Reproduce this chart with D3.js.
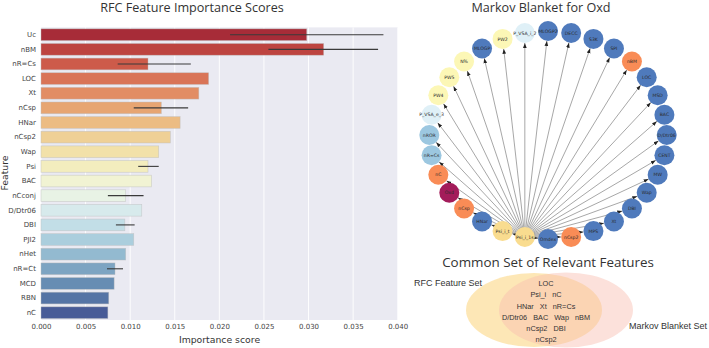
<!DOCTYPE html>
<html><head><meta charset="utf-8">
<script src="https://cdn.jsdelivr.net/npm/d3@7"></script>
<style>body{margin:0;background:#fff}svg{display:block}</style>
</head><body>
<svg id="c" width="709" height="348"></svg>
<script>
// ---------- Data ----------
const features = ["Uc","nBM","nR=Cs","LOC","Xt","nCsp","HNar","nCsp2","Wap","Psi","BAC","nCconj","D/Dtr06","DBI","PJI2","nHet","nR=Ct","MCD","RBN","nC"];
const importance = [0.0298,0.0317,0.0120,0.0188,0.0177,0.0135,0.0156,0.0145,0.0132,0.0120,0.0124,0.0095,0.0113,0.0094,0.0104,0.0095,0.0083,0.0082,0.0076,0.0075];
const errLow  = [0.0212,0.0255,0.0086,null,null,0.0104,null,null,null,0.0109,null,0.0075,null,0.0084,null,null,0.0074,null,null,null];
const errHigh = [0.0384,0.0378,0.0168,null,null,0.0165,null,null,null,0.0132,null,0.0115,null,0.0105,null,null,0.0092,null,null,null];
const xTicks = [0,0.005,0.01,0.015,0.02,0.025,0.03,0.035,0.04];

// Markov blanket nodes in circular-layout order (counter-clockwise from the right)
const mbNodes = ["D/Dtr06","BAC","MSD","LOC","nBM","SPI","S3K","DECC","MLOGP2","P_VSA_i_2","PW2","MLOGP","N%","PW5","PW4","P_VSA_e_3","nROR","nR=Cs","nC","Oxd","nCsp","HNar","Psi_i_t","Psi_i_1s","Omdex","nCsp2","MPS","Xt","DBI","Wap","MW","CENT"];
const mbGroups = ["blue","blue","blue","blue","orange","blue","blue","blue","blue","lightblue","paleyellow","blue","paleyellow","paleyellow","paleyellow","lightblue","midblue","midblue","orange","crimson","orange","blue","yellow","yellow","blue","orange","blue","blue","blue","blue","blue","blue"];
const mbHub = "Psi_i_1s";

const vennRows = [["LOC"],["Psi_i","nC"],["HNar","Xt","nR=Cs"],["D/Dtr06","BAC","Wap","nBM"],["nCsp2","DBI"],["nCsp2"]];
const vennSets = ["RFC Feature Set","Markov Blanket Set"];

// ---------- Setup ----------
const svg = d3.select("#c");

// ---------- Bar chart ----------
const x = d3.scaleLinear().domain([0,0.04]).range([41,397.7]);
const y = d3.scaleBand().domain(features).range([27.4,320]).paddingInner(0.2).paddingOuter(0.1);

svg.append("rect").attr("x",41).attr("y",27.4).attr("width",357).attr("height",292.6).attr("fill","#eaeaf2");
svg.append("g").selectAll("line").data(xTicks).join("line")
  .attr("x1",d=>x(d)).attr("x2",d=>x(d)).attr("y1",27.4).attr("y2",320)
  .attr("stroke","#fff").attr("stroke-width",0.9);

const n = features.length;
function barColor(i){
  const c = d3.hsl(d3.interpolateRdYlBu((i+1)/(n+1)));
  c.s *= 0.75;
  return c.formatRgb();
}
svg.append("g").selectAll("rect").data(features).join("rect")
  .attr("x",x(0)).attr("y",d=>y(d)).attr("height",y.bandwidth())
  .attr("width",(d,i)=>x(importance[i])-x(0))
  .attr("fill",(d,i)=>barColor(i))
  .attr("stroke","rgba(190,190,190,0.7)").attr("stroke-width",0.6);

svg.append("g").selectAll("line").data(features.map((f,i)=>({f,lo:errLow[i],hi:errHigh[i]})).filter(d=>d.lo!==null))
  .join("line")
  .attr("x1",d=>x(d.lo)).attr("x2",d=>x(d.hi))
  .attr("y1",d=>y(d.f)+y.bandwidth()/2).attr("y2",d=>y(d.f)+y.bandwidth()/2)
  .attr("stroke","#3a3a3a").attr("stroke-width",1.1);

const yAx = svg.append("g").attr("transform","translate(41,0)").call(d3.axisLeft(y).tickSize(0).tickPadding(5));
yAx.select(".domain").remove();
yAx.selectAll("text").attr("font-family","DejaVu Sans").attr("font-size",7).attr("fill","#444");

const xAx = svg.append("g").attr("transform","translate(0,320)").call(d3.axisBottom(x).tickValues(xTicks).tickFormat(d3.format(".3f")).tickSize(0).tickPadding(4));
xAx.select(".domain").remove();
xAx.selectAll("text").attr("font-family","DejaVu Sans").attr("font-size",7).attr("fill","#444");

svg.append("text").attr("x",219.5).attr("y",342.5).attr("text-anchor","middle")
  .attr("font-family","DejaVu Sans").attr("font-size",9.3).attr("fill","#333").text("Importance score");
svg.append("text").attr("transform","translate(8,173) rotate(-90)").attr("text-anchor","middle")
  .attr("font-family","DejaVu Sans").attr("font-size",9.3).attr("fill","#333").text("Feature");
svg.append("text").attr("x",192).attr("y",12).attr("text-anchor","middle")
  .attr("font-family","Open Sans").attr("font-size",12.6).attr("fill","#333").text("RFC Feature Importance Scores");

// ---------- Network ----------
svg.append("text").attr("x",541).attr("y",12).attr("text-anchor","middle")
  .attr("font-family","Open Sans").attr("font-size",12.6).attr("fill","#333").text("Markov Blanket for Oxd");

const nx = d3.scaleLinear().domain([-1,1]).range([429.3,666.7]);
const ny = d3.scaleLinear().domain([-1,1]).range([239,31]);
const groupColor = {blue:"#4f7abc",orange:"#f98c56",crimson:"#a31c5a",paleyellow:"#fcf7b6",yellow:"#f9dc8f",lightblue:"#dff0f7",midblue:"#9cc7e0"};
const R = 10;
const nodes = mbNodes.map((name,i)=>{
  const a = i*2*Math.PI/mbNodes.length;
  return {name, group:mbGroups[i], px:nx(Math.cos(a)), py:ny(Math.sin(a))};
});
const hub = nodes.find(d=>d.name===mbHub);
const edges = nodes.filter(d=>d!==hub).map(t=>{
  const dx=t.px-hub.px, dy=t.py-hub.py, L=Math.hypot(dx,dy);
  return {x1:hub.px,y1:hub.py,x2:t.px-dx/L*R,y2:t.py-dy/L*R};
});
svg.append("defs").append("marker").attr("id","arr").attr("viewBox","0 -3 6 6")
  .attr("refX",6).attr("refY",0).attr("markerWidth",5).attr("markerHeight",5)
  .attr("markerUnits","userSpaceOnUse").attr("orient","auto")
  .append("path").attr("d","M0,-2.2L6,0L0,2.2Z").attr("fill","#222");
svg.append("g").selectAll("line").data(edges).join("line")
  .attr("x1",d=>d.x1).attr("y1",d=>d.y1).attr("x2",d=>d.x2).attr("y2",d=>d.y2)
  .attr("stroke","#777").attr("stroke-width",0.65).attr("marker-end","url(#arr)");
const ng = svg.append("g").selectAll("g").data(nodes).join("g")
  .attr("transform",d=>`translate(${d.px},${d.py})`);
ng.append("circle").attr("r",R).attr("fill",d=>groupColor[d.group]);
ng.append("text").attr("text-anchor","middle").attr("dy","0.35em")
  .attr("font-family","DejaVu Sans").attr("font-size",4.6).attr("fill","#2b2b2b").text(d=>d.name);

// ---------- Venn ----------
svg.append("text").attr("x",548).attr("y",266.5).attr("text-anchor","middle")
  .attr("font-family","Open Sans").attr("font-size",13.4).attr("fill","#333").text("Common Set of Relevant Features");
svg.append("ellipse").attr("cx",534).attr("cy",310).attr("rx",68).attr("ry",37)
  .attr("fill","rgb(252,212,122)").attr("fill-opacity",0.55);
svg.append("ellipse").attr("cx",566).attr("cy",310).attr("rx",67).attr("ry",37.5)
  .attr("fill","rgb(248,188,176)").attr("fill-opacity",0.45);
svg.append("text").attr("x",414).attr("y",286).attr("font-family","Liberation Sans").attr("font-size",9)
  .attr("fill","#333").text(vennSets[0]);
svg.append("text").attr("x",629).attr("y",328.5).attr("font-family","Liberation Sans").attr("font-size",9)
  .attr("fill","#333").text(vennSets[1]);
const vy = d3.scalePoint().domain(d3.range(vennRows.length)).range([286.3,342]);
vennRows.forEach((row,ri)=>{
  svg.append("text").attr("x",546).attr("y",vy(ri)).attr("text-anchor","middle")
    .attr("font-family","Liberation Sans").attr("font-size",7.3).attr("fill","#333")
    .attr("xml:space","preserve").style("white-space","pre").text(row.join("   "));
});
</script>
</body></html>
